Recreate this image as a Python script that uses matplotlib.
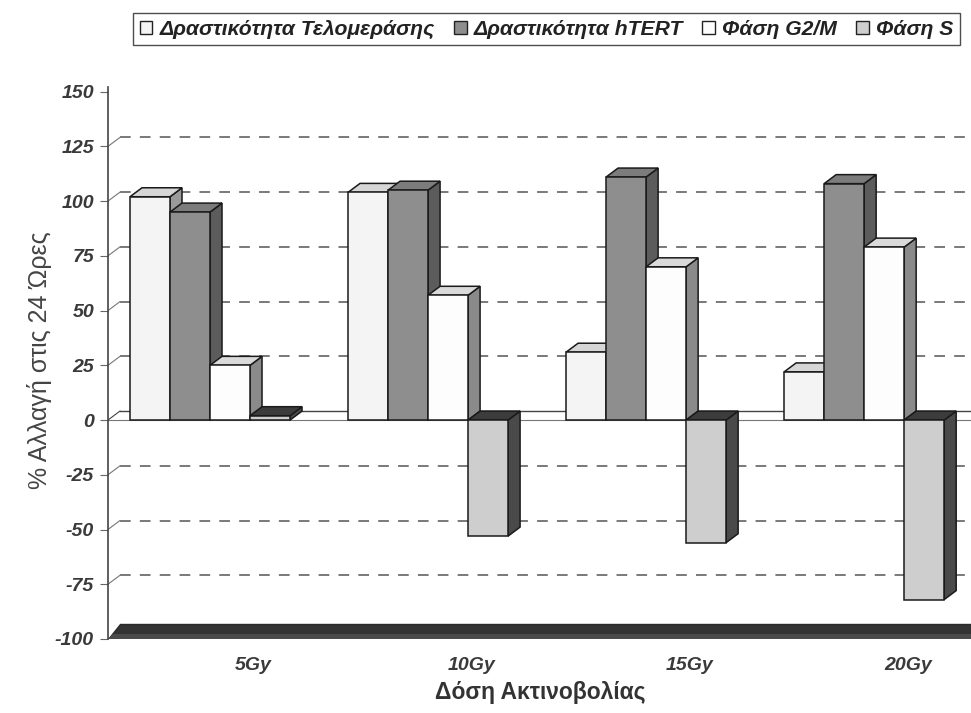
import matplotlib
matplotlib.use('Agg')
import matplotlib.pyplot as plt
from matplotlib.patches import Polygon, Patch

# data
doses = ['5Gy', '10Gy', '15Gy', '20Gy']
series = ['Δραστικότητα Τελομεράσης', 'Δραστικότητα hTERT', 'Φάση G2/M', 'Φάση S']
telomerase = [102, 104, 31, 22]
htert = [95, 105, 111, 108]
g2m = [25, 57, 70, 79]
phase_s = [2, -53, -56, -82]
yticks = list(range(-100, 151, 25))

# (front, top, side) shades for each series
shades = [('#f4f4f4', '#d6d6d6', '#9a9a9a'),
          ('#8e8e8e', '#7c7c7c', '#5c5c5c'),
          ('#fdfdfd', '#dadada', '#8a8a8a'),
          ('#cecece', '#3c3c3c', '#4a4a4a')]

W = 0.1835          # bar width
DX, DY = 0.055, 4.1  # 3d depth offset in data units
XL = (-0.468, 3.49)
YL = (-100, 155)

plt.rcParams['font.family'] = ['Liberation Sans', 'DejaVu Sans']

fig = plt.figure(figsize=(9.71, 7.13), dpi=100)
ax = fig.add_axes([0.1112, 0.1038, 0.8888, 0.783])
ax.set_xlim(*XL)
ax.set_ylim(*YL)
for s in ax.spines.values():
    s.set_visible(False)

# back wall grid
for v in yticks:
    if v in (-100, 0, 150):
        continue
    ax.plot([XL[0] + DX, XL[1]], [v + DY, v + DY], color='#555555', lw=1.1,
            dashes=(7, 6), zorder=1)
    ax.plot([XL[0], XL[0] + DX], [v, v + DY], color='#777777', lw=0.8, zorder=1)

# zero plane
ax.plot([XL[0] + DX, XL[1]], [DY, DY], color='#444444', lw=1.0, zorder=2)
ax.plot([XL[0], XL[1]], [0, 0], color='#777777', lw=0.8, zorder=2)
ax.plot([XL[0], XL[0] + DX], [0, DY], color='#444444', lw=0.8, zorder=2)

# left wall edge and floor
ax.plot([XL[0], XL[0]], [-100, 152], color='#444444', lw=1.2, zorder=2, clip_on=False)
ax.add_patch(Polygon([(XL[0], YL[0]), (XL[1], YL[0]), (XL[1], YL[0] + DY * 1.7),
                      (XL[0] + DX, YL[0] + DY * 1.7)], closed=True,
                     facecolor='#333333', edgecolor='#2a2a2a', zorder=2))
ax.add_patch(Polygon([(XL[0], YL[0]), (XL[1], YL[0]), (XL[1], YL[0] + DY * 0.6),
                      (XL[0] + DX * 0.4, YL[0] + DY * 0.6)], closed=True,
                     facecolor='#4a4a4a', edgecolor='none', zorder=2))


def bar3d(x0, v, cols, z):
    lo, hi = min(0, v), max(0, v)
    front, top, side = cols
    kw = dict(closed=True, edgecolor='#1a1a1a', lw=1.1, zorder=z)
    ax.add_patch(Polygon([(x0 + W, lo), (x0 + W, hi), (x0 + W + DX, hi + DY),
                          (x0 + W + DX, lo + DY)], facecolor=side, **kw))
    ax.add_patch(Polygon([(x0, hi), (x0 + W, hi), (x0 + W + DX, hi + DY),
                          (x0 + DX, hi + DY)], facecolor=top, **kw))
    ax.add_patch(Polygon([(x0, lo), (x0 + W, lo), (x0 + W, hi), (x0, hi)],
                         facecolor=front, **kw))


values = [telomerase, htert, g2m, phase_s]
z = 3
for i in range(len(doses)):
    for j, vals in enumerate(values):
        bar3d(i - 2 * W + j * W, vals[i], shades[j], z)
        z += 1

tick_font = dict(fontsize=14, fontweight='bold', fontstyle='italic', color='#3a3a3a')
ax.set_yticks(yticks)
ax.set_yticklabels([str(t) for t in yticks], **tick_font)
ax.tick_params(axis='y', length=6, width=0.8, color='#666666', pad=4)
ax.set_xticks([i + 0.2 for i in range(len(doses))])
ax.set_xticklabels(doses, **tick_font)
ax.tick_params(axis='x', length=0, pad=13)

ax.set_ylabel('% Αλλαγή στις 24 Ώρες', fontsize=18, color='#444444')
ax.yaxis.set_label_coords(-0.065, 0.5)
fig.text(0.556, 0.029, 'Δόση Ακτινοβολίας', fontsize=16.5, fontweight='bold',
         color='#333333', ha='center', va='center')

handles = [Patch(facecolor=sh[0] if k != 1 else '#8e8e8e', edgecolor='#222222', lw=1)
           for k, sh in enumerate(shades)]
leg = fig.legend(handles, series, loc='center', ncol=4,
                 bbox_to_anchor=(0.563, 0.959), frameon=True, fancybox=False,
                 edgecolor='#222222', handlelength=0.6, handleheight=0.6,
                 handletextpad=0.35, columnspacing=0.9, borderpad=0.3,
                 prop=dict(size=15.2, weight='bold', style='italic'))
leg.get_frame().set_linewidth(1.0)
for t in leg.get_texts():
    t.set_color('#222222')

fig.savefig('out.png', dpi=100)
